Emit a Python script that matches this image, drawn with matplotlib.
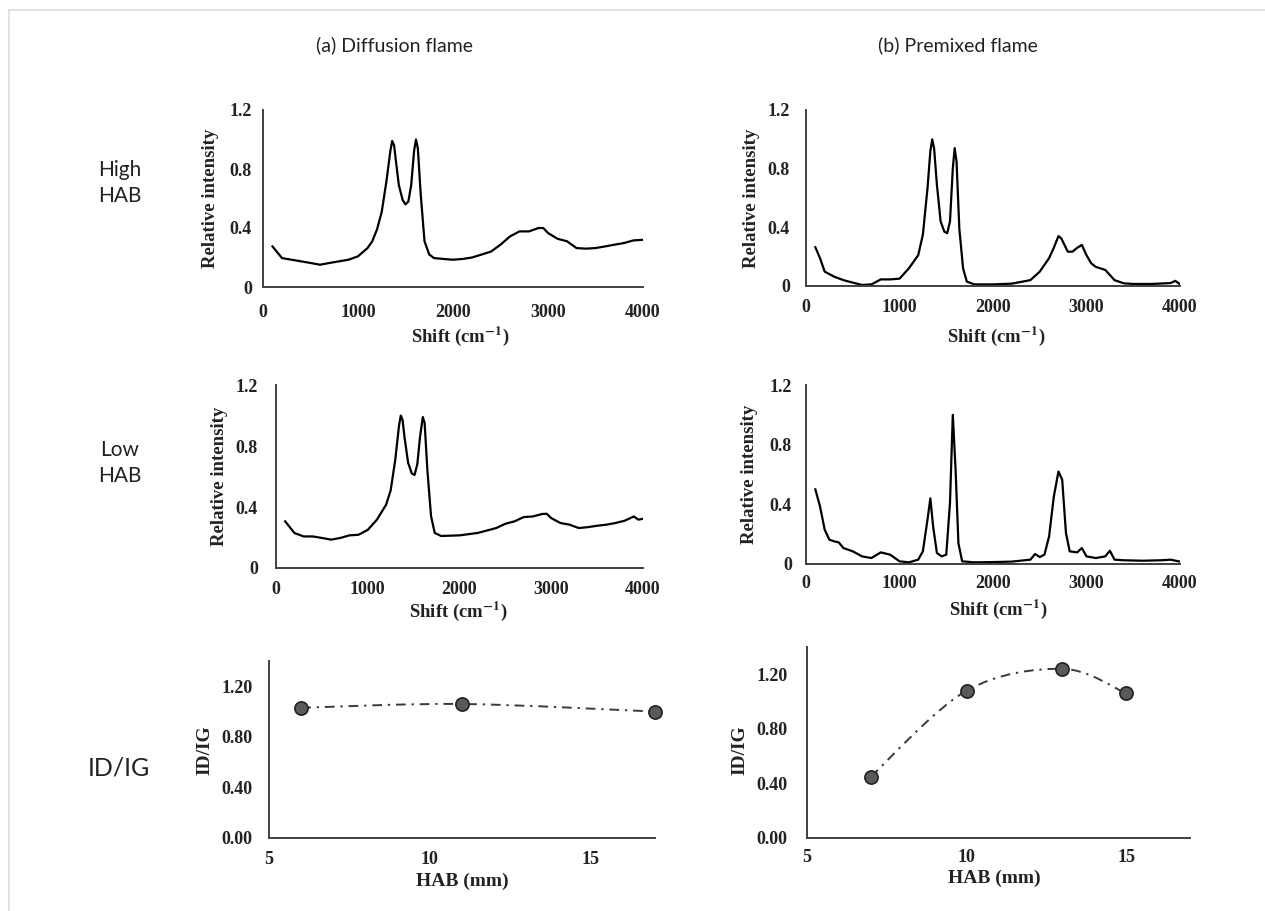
import numpy as np
import matplotlib.pyplot as plt
from matplotlib.path import Path
from matplotlib.patches import PathPatch
from matplotlib.lines import Line2D

plt.rcParams['mathtext.fontset'] = 'stix'

# Raman spectra (shift in cm-1, relative intensity)
diff_high_x = [100, 200, 300, 400, 500, 600, 700, 800, 900, 1000, 1100, 1150, 1200, 1250, 1300,
               1340, 1360, 1380, 1400, 1430, 1470, 1500, 1530, 1560, 1590, 1610, 1630, 1660, 1700,
               1750, 1800, 1900, 2000, 2100, 2200, 2300, 2400, 2500, 2600, 2700, 2800, 2900, 2950,
               3000, 3100, 3200, 3300, 3400, 3500, 3600, 3700, 3800, 3900, 4000]
diff_high_y = [0.275, 0.196, 0.185, 0.174, 0.163, 0.151, 0.163, 0.174, 0.185, 0.208, 0.264, 0.31,
               0.39, 0.51, 0.72, 0.92, 0.99, 0.96, 0.85, 0.69, 0.59, 0.56, 0.58, 0.69, 0.92, 1.0,
               0.94, 0.63, 0.31, 0.22, 0.196, 0.19, 0.185, 0.19, 0.20, 0.22, 0.24, 0.287, 0.343,
               0.377, 0.377, 0.40, 0.40, 0.366, 0.327, 0.31, 0.264, 0.26, 0.264, 0.275, 0.287,
               0.298, 0.316, 0.32]

prem_high_x = [100, 150, 200, 300, 400, 500, 600, 700, 800, 900, 1000, 1100, 1200, 1250, 1300,
               1330, 1350, 1370, 1400, 1440, 1480, 1510, 1540, 1570, 1590, 1610, 1640, 1680, 1720,
               1800, 2000, 2200, 2400, 2500, 2600, 2650, 2700, 2730, 2800, 2850, 2900, 2950, 3000,
               3050, 3100, 3200, 3300, 3400, 3500, 3700, 3900, 3950, 4000]
prem_high_y = [0.264, 0.19, 0.098, 0.064, 0.04, 0.023, 0.007, 0.011, 0.045, 0.045, 0.05, 0.12,
               0.21, 0.35, 0.67, 0.92, 1.0, 0.94, 0.69, 0.44, 0.37, 0.36, 0.44, 0.80, 0.94, 0.85,
               0.39, 0.12, 0.03, 0.011, 0.011, 0.016, 0.04, 0.098, 0.19, 0.26, 0.34, 0.325, 0.234,
               0.234, 0.26, 0.28, 0.21, 0.155, 0.13, 0.11, 0.04, 0.018, 0.014, 0.014, 0.02, 0.035,
               0.011]

diff_low_x = [100, 200, 300, 400, 500, 600, 700, 800, 900, 1000, 1100, 1200, 1250, 1300, 1340,
              1360, 1380, 1400, 1440, 1480, 1510, 1540, 1570, 1600, 1620, 1650, 1690, 1730, 1800,
              2000, 2200, 2400, 2500, 2600, 2700, 2800, 2900, 2950, 3000, 3100, 3200, 3300, 3400,
              3500, 3600, 3700, 3800, 3900, 3950, 4000]
diff_low_y = [0.306, 0.23, 0.207, 0.207, 0.197, 0.186, 0.197, 0.214, 0.218, 0.25, 0.317, 0.415,
              0.51, 0.71, 0.93, 1.0, 0.97, 0.86, 0.69, 0.62, 0.61, 0.68, 0.86, 0.99, 0.95, 0.64,
              0.34, 0.23, 0.21, 0.214, 0.23, 0.262, 0.29, 0.306, 0.334, 0.338, 0.354, 0.356, 0.327,
              0.295, 0.284, 0.262, 0.268, 0.277, 0.284, 0.295, 0.31, 0.338, 0.317, 0.323]

prem_low_x = [100, 150, 200, 250, 300, 350, 400, 500, 600, 700, 800, 900, 1000, 1100, 1200, 1250,
              1300, 1330, 1360, 1400, 1450, 1500, 1540, 1570, 1600, 1630, 1670, 1800, 2000, 2200,
              2400, 2450, 2500, 2550, 2600, 2650, 2700, 2740, 2780, 2820, 2900, 2950, 3000, 3100,
              3200, 3250, 3300, 3400, 3600, 3800, 3900, 4000]
prem_low_y = [0.50, 0.386, 0.23, 0.163, 0.152, 0.145, 0.107, 0.085, 0.051, 0.04, 0.078, 0.0625,
              0.018, 0.011, 0.029, 0.085, 0.30, 0.44, 0.25, 0.074, 0.051, 0.0625, 0.41, 1.0, 0.63,
              0.14, 0.018, 0.011, 0.013, 0.016, 0.029, 0.067, 0.047, 0.0625, 0.185, 0.45, 0.62,
              0.565, 0.21, 0.085, 0.078, 0.107, 0.051, 0.04, 0.051, 0.089, 0.029, 0.025, 0.022,
              0.025, 0.029, 0.016]

# ID/IG ratio vs height above burner
diff_hab = [6, 11, 17]
diff_ratio = [1.03, 1.06, 1.00]
prem_hab = [7, 10, 13, 15]
prem_ratio = [0.45, 1.08, 1.24, 1.06]
prem_err = [0.0, 0.05, 0.0, 0.0]

W, H = 1265, 911
fig = plt.figure(figsize=(W / 100, H / 100), dpi=100)

# thin grey frame (top and left only, as in the source image)
fig.add_artist(Line2D([9 / W, 1], [1 - 10 / H, 1 - 10 / H], transform=fig.transFigure,
                      color='#dddddd', linewidth=1.2))
fig.add_artist(Line2D([9 / W, 9 / W], [0, 1 - 10 / H], transform=fig.transFigure,
                      color='#dddddd', linewidth=1.2))

serif = 'Liberation Serif'
sans = 'Lato'
tick_col = '#222222'


def box(l, r, t, b):
    return [l / W, (H - b) / H, (r - l) / W, (b - t) / H]


def style(ax, xpad, ypad):
    for s in ['top', 'right']:
        ax.spines[s].set_visible(False)
    for s in ['left', 'bottom']:
        ax.spines[s].set_color('#404040')
        ax.spines[s].set_linewidth(1.4)
    ax.tick_params(axis='x', length=0, pad=xpad)
    ax.tick_params(axis='y', length=0, pad=ypad)
    for lab in ax.get_xticklabels() + ax.get_yticklabels():
        lab.set_fontfamily(serif)
        lab.set_fontweight('bold')
        lab.set_fontsize(13)
        lab.set_color(tick_col)


def spectrum(rect, x, y, pads, ylab_x, xlab):
    ax = fig.add_axes(rect)
    ax.plot(x, y, color='black', linewidth=1.6)
    ax.set_xlim(0, 4000)
    ax.set_ylim(0, 1.2)
    ax.set_xticks([0, 1000, 2000, 3000, 4000], ['0', '1000', '2000', '3000', '4000'])
    ax.set_yticks([0, 0.4, 0.8, 1.2], ['0', '0.4', '0.8', '1.2'])
    style(ax, *pads)
    ax.set_ylabel('Relative intensity', fontfamily=serif, fontweight='bold', fontsize=13.5,
                  color=tick_col)
    ax.set_xlabel(r'Shift (cm$^{\mathbf{-1}}$)', fontfamily=serif, fontweight='bold',
                  fontsize=13.5, color=tick_col)
    ax.yaxis.set_label_coords(ylab_x, 0.5)
    ax.xaxis.set_label_coords(*xlab)
    return ax


spectrum(box(263, 643, 110, 287), diff_high_x, diff_high_y, (12, 8), -0.116, (0.518, -0.215))
spectrum(box(806, 1180, 110, 286), prem_high_x, prem_high_y, (9.4, 11.5), -0.123, (0.508, -0.222))
spectrum(box(276, 643, 385, 568), diff_low_x, diff_low_y, (9.5, 13), -0.131, (0.496, -0.175))
spectrum(box(806, 1180, 385, 564), prem_low_x, prem_low_y, (8, 10), -0.128, (0.513, -0.19))


def smooth_line(ax, x, y, **kw):
    # Excel-style smoothed connector: Catmull-Rom segments as cubic Bezier curves
    p = np.column_stack([x, y]).astype(float)
    n = len(p)
    verts = [p[0]]
    codes = [Path.MOVETO]
    for i in range(n - 1):
        p0 = p[i - 1] if i > 0 else p[i]
        p1, p2 = p[i], p[i + 1]
        p3 = p[i + 2] if i + 2 < n else p[i + 1]
        verts += [p1 + (p2 - p0) / 6, p2 - (p3 - p1) / 6, p2]
        codes += [Path.CURVE4] * 3
    ax.add_patch(PathPatch(Path(verts, codes), fill=False, **kw))


def ratio(rect, x, y, err, pads, ylab, xlab):
    ax = fig.add_axes(rect)
    smooth_line(ax, x, y, edgecolor='#3a3a3a', linestyle=(0, (5, 3, 1.2, 3)), linewidth=1.4)
    ax.errorbar(x, y, yerr=err, linestyle='none', marker='o', markersize=9.5,
                markerfacecolor='#5a5a5a', markeredgecolor='#222222', markeredgewidth=1.2,
                ecolor='#555555', elinewidth=1.0, capsize=0, clip_on=False, zorder=3)
    ax.set_xlim(5, 17)
    ax.set_ylim(0, 1.4)
    ax.set_xticks([5, 10, 15], ['5', '10', '15'])
    ax.set_yticks([0, 0.4, 0.8, 1.2], ['0.00', '0.40', '0.80', '1.20'])
    style(ax, *pads)
    ax.set_ylabel('ID/IG', fontfamily=serif, fontweight='bold', fontsize=14, color=tick_col)
    ax.set_xlabel('HAB (mm)', fontfamily=serif, fontweight='bold', fontsize=14, color=tick_col)
    ax.yaxis.set_label_coords(*ylab)
    ax.xaxis.set_label_coords(*xlab)
    return ax


ratio(box(269, 655, 661, 838), diff_hab, diff_ratio, None, (9.4, 12), (-0.145, 0.497), (0.5, -0.198))
ratio(box(807, 1190, 647, 838), prem_hab, prem_ratio, prem_err, (8, 14), (-0.154, 0.46),
      (0.488, -0.168))

# column and row headings
fig.text(395 / W, 1 - 45 / H, '(a) Diffusion flame', ha='center', va='center',
         fontfamily=sans, fontsize=14, color='#222222')
fig.text(958 / W, 1 - 45 / H, '(b) Premixed flame', ha='center', va='center',
         fontfamily=sans, fontsize=14, color='#222222')
fig.text(120 / W, 1 - 183 / H, 'High\nHAB', ha='center', va='center', fontfamily=sans,
         fontsize=15, color='#222222', linespacing=1.4)
fig.text(120 / W, 1 - 463 / H, 'Low\nHAB', ha='center', va='center', fontfamily=sans,
         fontsize=15, color='#222222', linespacing=1.4)
fig.text(119 / W, 1 - 768 / H, 'ID/IG', ha='center', va='center', fontfamily=sans,
         fontsize=18, color='#222222')

fig.savefig('out.png', dpi=100)
